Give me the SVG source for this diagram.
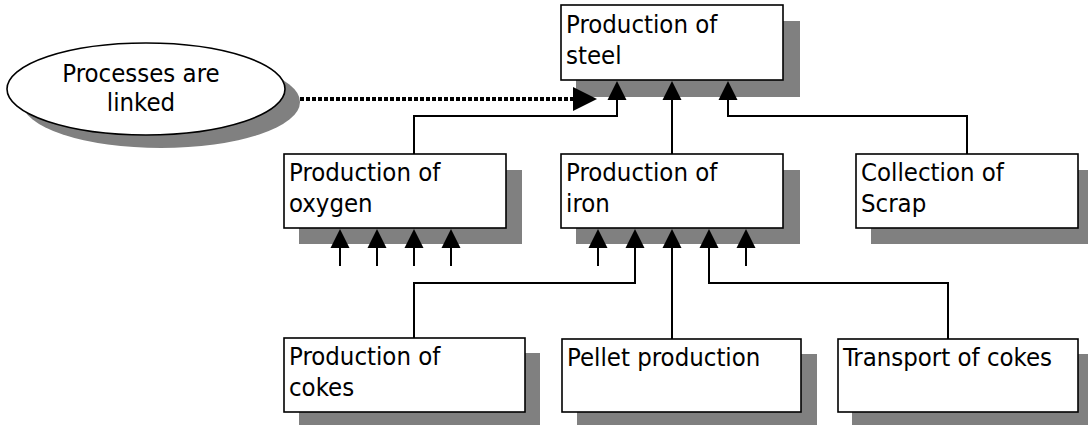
<svg xmlns="http://www.w3.org/2000/svg" width="1088" height="425" viewBox="0 0 1088 425">
<defs>
<style>
.sh{fill:#808080}
.bx{fill:#fff;stroke:#000;stroke-width:1.6}
.t{font-family:"DejaVu Sans Condensed","DejaVu Sans","Liberation Sans",sans-serif;font-stretch:condensed;font-size:25.5px;fill:#000}
.ln{fill:none;stroke:#000;stroke-width:2}
.dot{fill:none;stroke:#000;stroke-width:4;stroke-dasharray:4 2}
.ah{fill:#000}
</style>
</defs>
<rect width="1088" height="425" fill="#fff"/>
<g id="node-linked">
<ellipse class="sh" cx="161" cy="102" rx="139" ry="46"/>
<ellipse class="bx" cx="146" cy="89" rx="139" ry="46"/>
<text class="t" x="141" y="82" text-anchor="middle">Processes are</text>
<text class="t" x="141" y="111" text-anchor="middle">linked</text>
</g>
<g id="node-steel">
<rect class="sh" x="576" y="21" width="224" height="76"/>
<rect class="bx" x="561" y="5" width="222" height="75"/>
<text class="t" x="566" y="33">Production of</text>
<text class="t" x="566" y="64">steel</text>
</g>
<g id="node-oxygen">
<rect class="sh" x="299" y="170" width="223" height="74"/>
<rect class="bx" x="284" y="154" width="222" height="74"/>
<text class="t" x="289" y="181">Production of</text>
<text class="t" x="289" y="212">oxygen</text>
</g>
<g id="node-iron">
<rect class="sh" x="576" y="170" width="224" height="74"/>
<rect class="bx" x="561" y="154" width="222" height="74"/>
<text class="t" x="566" y="181">Production of</text>
<text class="t" x="566" y="212">iron</text>
</g>
<g id="node-scrap">
<rect class="sh" x="871" y="170" width="223" height="74"/>
<rect class="bx" x="856" y="154" width="222" height="74"/>
<text class="t" x="861" y="181">Collection of</text>
<text class="t" x="861" y="212">Scrap</text>
</g>
<g id="node-cokes">
<rect class="sh" x="299" y="353" width="241" height="74"/>
<rect class="bx" x="284" y="338" width="241" height="74"/>
<text class="t" x="289" y="365">Production of</text>
<text class="t" x="289" y="396">cokes</text>
</g>
<g id="node-pellet">
<rect class="sh" x="577" y="354" width="240" height="74"/>
<rect class="bx" x="562" y="339" width="239" height="73"/>
<text class="t" x="567" y="366">Pellet production</text>
</g>
<g id="node-transport">
<rect class="sh" x="852" y="354" width="240" height="74"/>
<rect class="bx" x="838" y="339" width="240" height="73"/>
<text class="t" x="843" y="366">Transport of cokes</text>
</g>
<g id="connectors">
<path class="dot" d="M300,99 H576"/>
<polygon class="ah" points="597,99 573,87 573,111"/>
<path class="ln" d="M617,99 V116 H414 V154"/>
<path class="ln" d="M672,99 V154"/>
<path class="ln" d="M728,99 V116 H967 V154"/>
<polygon class="ah" points="617,81 607.5,100 626.5,100"/>
<polygon class="ah" points="672,81 662.5,100 681.5,100"/>
<polygon class="ah" points="728,81 718.5,100 737.5,100"/>
<path class="ln" d="M340,246 V266 M377,246 V266 M414,246 V266 M451,246 V266"/>
<polygon class="ah" points="340,229 330.5,248 349.5,248"/>
<polygon class="ah" points="377,229 367.5,248 386.5,248"/>
<polygon class="ah" points="414,229 404.5,248 423.5,248"/>
<polygon class="ah" points="451,229 441.5,248 460.5,248"/>
<path class="ln" d="M598,246 V266 M746,246 V266"/>
<path class="ln" d="M635,246 V283 H414 V338"/>
<path class="ln" d="M672,246 V339"/>
<path class="ln" d="M709,246 V283 H948 V339"/>
<polygon class="ah" points="598,229 588.5,248 607.5,248"/>
<polygon class="ah" points="635,229 625.5,248 644.5,248"/>
<polygon class="ah" points="672,229 662.5,248 681.5,248"/>
<polygon class="ah" points="709,229 699.5,248 718.5,248"/>
<polygon class="ah" points="746,229 736.5,248 755.5,248"/>
</g>
</svg>
